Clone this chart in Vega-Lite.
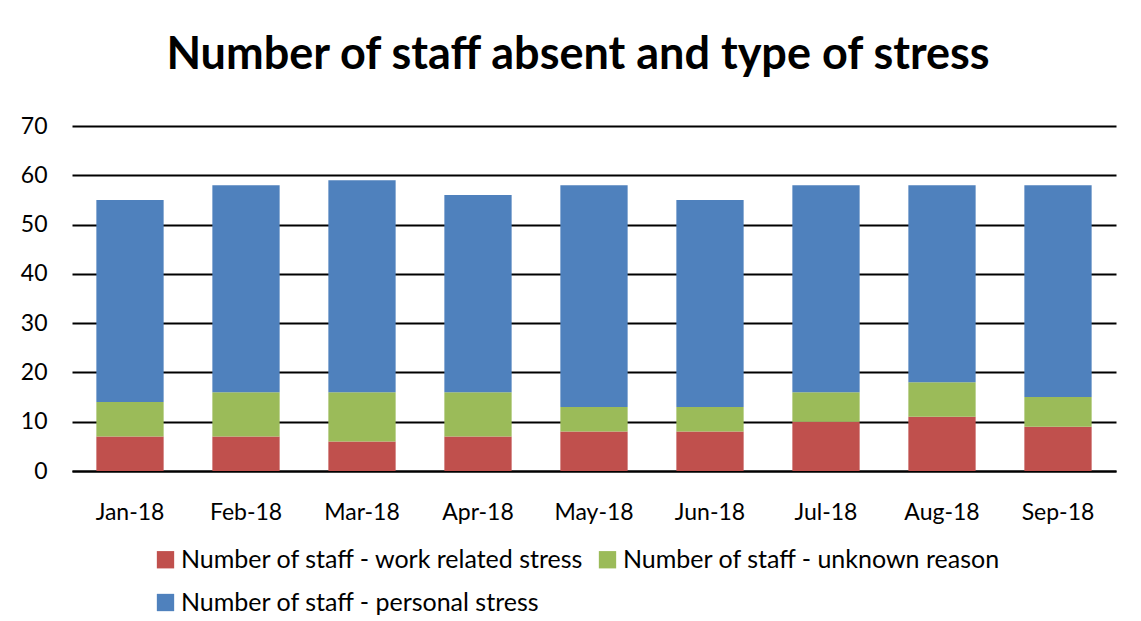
{
  "$schema": "https://vega.github.io/schema/vega-lite/v6.json",
  "autosize": {"type": "none"},
  "width": 1044,
  "height": 345,
  "padding": {"left": 72, "top": 126, "right": 25, "bottom": 150},
  "background": "white",
  "title": {
    "text": "Number of staff absent and type of stress",
    "font": "Lato",
    "fontSize": 45,
    "fontWeight": "bold",
    "color": "black",
    "anchor": "middle",
    "dx": -16,
    "offset": 37
  },
  "data": {
    "values": [
      {"month": "Jan-18", "series": "Number of staff - work related stress", "value": 7},
      {"month": "Jan-18", "series": "Number of staff - unknown reason", "value": 7},
      {"month": "Jan-18", "series": "Number of staff - personal stress", "value": 41},
      {"month": "Feb-18", "series": "Number of staff - work related stress", "value": 7},
      {"month": "Feb-18", "series": "Number of staff - unknown reason", "value": 9},
      {"month": "Feb-18", "series": "Number of staff - personal stress", "value": 42},
      {"month": "Mar-18", "series": "Number of staff - work related stress", "value": 6},
      {"month": "Mar-18", "series": "Number of staff - unknown reason", "value": 10},
      {"month": "Mar-18", "series": "Number of staff - personal stress", "value": 43},
      {"month": "Apr-18", "series": "Number of staff - work related stress", "value": 7},
      {"month": "Apr-18", "series": "Number of staff - unknown reason", "value": 9},
      {"month": "Apr-18", "series": "Number of staff - personal stress", "value": 40},
      {"month": "May-18", "series": "Number of staff - work related stress", "value": 8},
      {"month": "May-18", "series": "Number of staff - unknown reason", "value": 5},
      {"month": "May-18", "series": "Number of staff - personal stress", "value": 45},
      {"month": "Jun-18", "series": "Number of staff - work related stress", "value": 8},
      {"month": "Jun-18", "series": "Number of staff - unknown reason", "value": 5},
      {"month": "Jun-18", "series": "Number of staff - personal stress", "value": 42},
      {"month": "Jul-18", "series": "Number of staff - work related stress", "value": 10},
      {"month": "Jul-18", "series": "Number of staff - unknown reason", "value": 6},
      {"month": "Jul-18", "series": "Number of staff - personal stress", "value": 42},
      {"month": "Aug-18", "series": "Number of staff - work related stress", "value": 11},
      {"month": "Aug-18", "series": "Number of staff - unknown reason", "value": 7},
      {"month": "Aug-18", "series": "Number of staff - personal stress", "value": 40},
      {"month": "Sep-18", "series": "Number of staff - work related stress", "value": 9},
      {"month": "Sep-18", "series": "Number of staff - unknown reason", "value": 6},
      {"month": "Sep-18", "series": "Number of staff - personal stress", "value": 43}
    ]
  },
  "mark": {"type": "bar"},
  "encoding": {
    "x": {
      "field": "month",
      "type": "nominal",
      "sort": ["Jan-18", "Feb-18", "Mar-18", "Apr-18", "May-18", "Jun-18", "Jul-18", "Aug-18", "Sep-18"],
      "scale": {"paddingInner": 0.42, "paddingOuter": 0.21},
      "axis": {
        "title": null,
        "labelAngle": 0,
        "labelFont": "Lato",
        "labelFontSize": 23,
        "labelColor": "black",
        "labelPadding": 30,
        "ticks": false,
        "domain": true,
        "domainColor": "black",
        "domainWidth": 2
      }
    },
    "y": {
      "field": "value",
      "type": "quantitative",
      "stack": "zero",
      "scale": {"domain": [0, 70], "nice": false},
      "axis": {
        "title": null,
        "values": [0, 10, 20, 30, 40, 50, 60, 70],
        "labelFont": "Lato",
        "labelFontSize": 23,
        "labelColor": "black",
        "labelPadding": 25,
        "ticks": false,
        "domain": false,
        "grid": true,
        "gridColor": "black",
        "gridWidth": 2
      }
    },
    "color": {
      "field": "series",
      "type": "nominal",
      "sort": ["Number of staff - work related stress", "Number of staff - unknown reason", "Number of staff - personal stress"],
      "scale": {
        "domain": ["Number of staff - work related stress", "Number of staff - unknown reason", "Number of staff - personal stress"],
        "range": ["#C0504D", "#9BBB59", "#4F81BD"]
      },
      "legend": {
        "title": null,
        "orient": "none",
        "legendX": 81,
        "legendY": 421,
        "direction": "horizontal",
        "columns": 2,
        "columnPadding": 10,
        "rowPadding": 17,
        "symbolType": "square",
        "symbolSize": 300,
        "symbolStrokeWidth": 0,
        "labelFont": "Lato",
        "labelFontSize": 25,
        "labelColor": "black",
        "labelLimit": 600,
        "labelOffset": 3
      }
    },
    "order": {"field": "series", "sort": "descending"}
  },
  "config": {"view": {"stroke": null}}
}
